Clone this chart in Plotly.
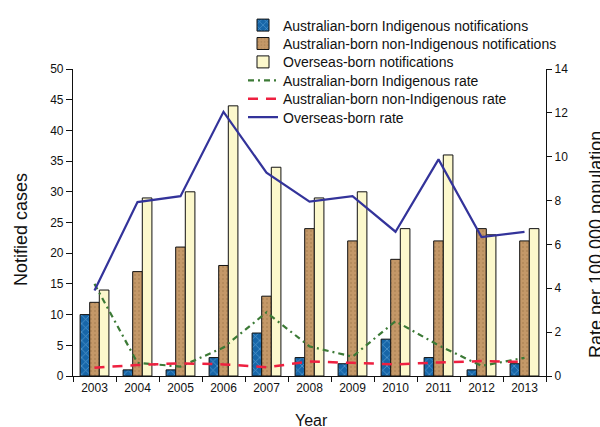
import plotly.graph_objects as go

years = ["2003", "2004", "2005", "2006", "2007", "2008", "2009", "2010", "2011", "2012", "2013"]

indig_notif = [10, 1, 1, 3, 7, 3, 2, 6, 3, 1, 2]
nonindig_notif = [12, 17, 21, 18, 13, 24, 22, 19, 22, 24, 22]
overseas_notif = [14, 29, 30, 44, 34, 29, 30, 24, 36, 23, 24]

indig_rate = [4.2, 0.6, 0.43, 1.3, 2.9, 1.35, 0.88, 2.5, 1.4, 0.46, 0.83]
nonindig_rate = [0.38, 0.5, 0.58, 0.53, 0.4, 0.66, 0.6, 0.53, 0.62, 0.68, 0.64]
overseas_rate = [3.9, 7.93, 8.2, 12.05, 9.27, 7.95, 8.2, 6.58, 9.88, 6.34, 6.57]

left_ticks = [0, 5, 10, 15, 20, 25, 30, 35, 40, 45, 50]
right_ticks = [0, 2, 4, 6, 8, 10, 12, 14]

FONT = "Liberation Sans, Arial, sans-serif"

# plot area in pixels
L, R, T, B = 73, 546, 69, 376
PW, PH = R - L, B - T

fig = go.Figure()

fig.add_trace(go.Bar(
    x=years, y=indig_notif, name="Australian-born Indigenous notifications",
    legend="legend",
    marker=dict(color="#1766a8", line=dict(color="#111111", width=1),
                pattern=dict(shape="x", fillmode="overlay", fgcolor="#8cc8f0",
                             bgcolor="#1766a8", size=6, solidity=0.25)),
))
fig.add_trace(go.Bar(
    x=years, y=nonindig_notif, name="Australian-born non-Indigenous notifications",
    legend="legend2",
    marker=dict(color="#c49868", line=dict(color="#111111", width=1),
                pattern=dict(shape=".", fillmode="overlay", fgcolor="#9c7448",
                             bgcolor="#c49868", size=4, solidity=0.2)),
))
fig.add_trace(go.Bar(
    x=years, y=overseas_notif, name="Overseas-born notifications",
    legend="legend3",
    marker=dict(color="#fcf8cc", line=dict(color="#111111", width=1)),
))

fig.add_trace(go.Scatter(
    x=years, y=indig_rate, name="Australian-born Indigenous rate", yaxis="y2",
    legend="legend4",
    mode="lines", line=dict(color="#3c7a36", width=2.2, dash="6px,4px,2px,4px"),
))
fig.add_trace(go.Scatter(
    x=years, y=nonindig_rate, name="Australian-born non-Indigenous rate", yaxis="y2",
    legend="legend5",
    mode="lines", line=dict(color="#ee2040", width=2.5, dash="10px,8px"),
))
fig.add_trace(go.Scatter(
    x=years, y=overseas_rate, name="Overseas-born rate", yaxis="y2",
    legend="legend6",
    mode="lines", line=dict(color="#33339a", width=2.2),
))

row_centers = [25, 43.4, 61.8, 80.2, 98.6, 117]
legend_left = 243


def leg(cy):
    top = cy - 15.5
    return dict(x=(legend_left - L) / PW, xanchor="left", y=(B - top) / PH, yanchor="top",
                font=dict(size=14, family=FONT, color="#111111"),
                bgcolor="rgba(0,0,0,0)", itemwidth=30)


legends = {}
for i, cy in enumerate(row_centers):
    key = "legend" if i == 0 else f"legend{i + 1}"
    legends[key] = leg(cy)

fig.update_layout(
    width=600, height=427,
    margin=dict(l=L, r=600 - R, t=T, b=427 - B, autoexpand=False),
    paper_bgcolor="white", plot_bgcolor="white",
    font=dict(family=FONT, size=12, color="#111111"),
    barmode="group", bargap=0.33, bargroupgap=0,
    showlegend=True,
    xaxis=dict(type="category", showline=True, linecolor="#111111", linewidth=1.2,
               ticks="outside", tickson="boundaries", ticklen=5, tickcolor="#111111",
               tickfont=dict(size=12), showgrid=False, zeroline=False),
    yaxis=dict(range=[0, 50], tickvals=left_ticks, showline=True, linecolor="#111111",
               linewidth=1.2, ticks="outside", ticklen=6, tickcolor="#111111",
               tickfont=dict(size=12), showgrid=False, zeroline=False),
    yaxis2=dict(range=[0, 14], tickvals=right_ticks, overlaying="y", side="right",
                showline=True, linecolor="#111111", linewidth=1.2, ticks="outside",
                ticklen=5, tickcolor="#111111", tickfont=dict(size=12),
                showgrid=False, zeroline=False),
    annotations=[
        dict(text="Notified cases", xref="paper", yref="paper", x=(21 - L) / PW,
             y=(B - 230) / PH, showarrow=False, textangle=-90,
             font=dict(size=18, family=FONT), xanchor="center", yanchor="middle"),
        dict(text="Rate per 100,000 population", xref="paper", yref="paper",
             x=(596 - L) / PW, y=(B - 245) / PH, showarrow=False, textangle=-90,
             font=dict(size=18, family=FONT), xanchor="center", yanchor="middle"),
        dict(text="Year", xref="paper", yref="paper", x=(311 - L) / PW,
             y=-(420 - B) / PH, showarrow=False,
             font=dict(size=16, family=FONT), xanchor="center", yanchor="middle"),
    ],
    **legends,
)

fig.write_html("out.html", config={"displayModeBar": False},
               post_script="document.body.style.margin='0';")
